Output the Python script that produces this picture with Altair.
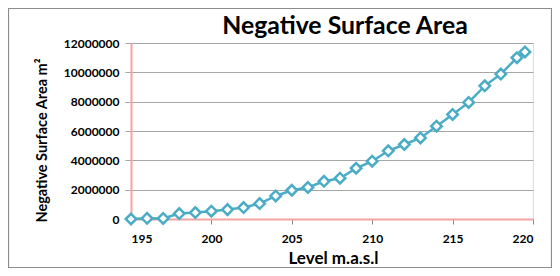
import altair as alt
import pandas as pd

levels = [195, 196, 197, 198, 199, 200, 201, 202, 203, 204, 205, 206, 207,
          208, 209, 210, 211, 212, 213, 214, 215, 216, 217, 218, 219, 219.5]
areas = [0, 50000, 40000, 370000, 440000, 530000, 640000, 780000, 1050000,
         1570000, 1960000, 2150000, 2570000, 2780000, 3460000, 3940000,
         4650000, 5080000, 5530000, 6330000, 7130000, 7950000, 9080000,
         9880000, 11000000, 11390000]
title_text = ["Negative Surface Area"]

df = pd.DataFrame({"level": levels, "area": areas})

W, H = 402, 176
PL, PT = 123, 35
TOTW, TOTH = 544, 260
FONT = "Lato"

x = alt.X("level:Q", scale=alt.Scale(domain=[195, 220], nice=False, zero=False),
          axis=alt.Axis(values=[195, 200, 205, 210, 215, 220], title="Level m.a.s.l",
                        grid=False, tickSize=5, tickColor="#888888",
                        domainColor="#f2a3a3", domainWidth=2,
                        labelFont=FONT, labelFontWeight="bold", labelFontSize=12,
                        labelColor="#000000", labelPadding=9,
                        titleFont=FONT, titleFontWeight="bold", titleFontSize=17,
                        titleColor="#000000", titleBaseline="alphabetic",
                        titleX=202, titleY=44))
y = alt.Y("area:Q", scale=alt.Scale(domain=[0, 12000000], nice=False),
          axis=alt.Axis(values=[0, 2000000, 4000000, 6000000, 8000000, 10000000, 12000000],
                        format="d", title="Negative Surface Area m²",
                        grid=True, gridColor="#a6a6a6", gridWidth=1,
                        tickSize=6, tickColor="#a6a6a6",
                        domainColor="#f2a3a3", domainWidth=2,
                        labelFont=FONT, labelFontWeight="bold", labelFontSize=12,
                        labelColor="#000000", labelPadding=6,
                        titleFont=FONT, titleFontWeight="bold", titleFontSize=14.5,
                        titleColor="#000000", titleBaseline="middle",
                        titleX=-89, titleY=97))

border = alt.Chart(pd.DataFrame({"a": [0]})).mark_rect(
    filled=False, stroke="#8c8c8c", strokeWidth=1.2
).encode(
    x=alt.value(-PL + 0.5), x2=alt.value(TOTW - PL - 0.5),
    y=alt.value(-PT + 0.5), y2=alt.value(TOTH - PT - 0.5)
)

title = alt.Chart(pd.DataFrame({"t": title_text})).mark_text(
    font=FONT, fontSize=24.8, fontWeight="bold", color="#000000",
    align="center", baseline="alphabetic"
).encode(text="t:N", x=alt.value(214), y=alt.value(-8.7))

line = alt.Chart(df).mark_line(color="#4bacc6", strokeWidth=2.5).encode(x=x, y=y)
pts = alt.Chart(df).mark_point(shape="diamond", size=110, filled=True, fill="white",
                               stroke="#4bacc6", strokeWidth=2.5, opacity=1).encode(x=x, y=y)

chart = alt.layer(border, title, line, pts).properties(
    width=W, height=H,
    autosize=alt.AutoSizeParams(type="none"),
    padding={"left": PL, "top": PT, "right": TOTW - PL - W, "bottom": TOTH - PT - H},
).configure_view(stroke="#f4b0b0", strokeWidth=2.5).configure(background="white")

chart.save("out.html", embed_options={"renderer": "svg", "actions": False})
